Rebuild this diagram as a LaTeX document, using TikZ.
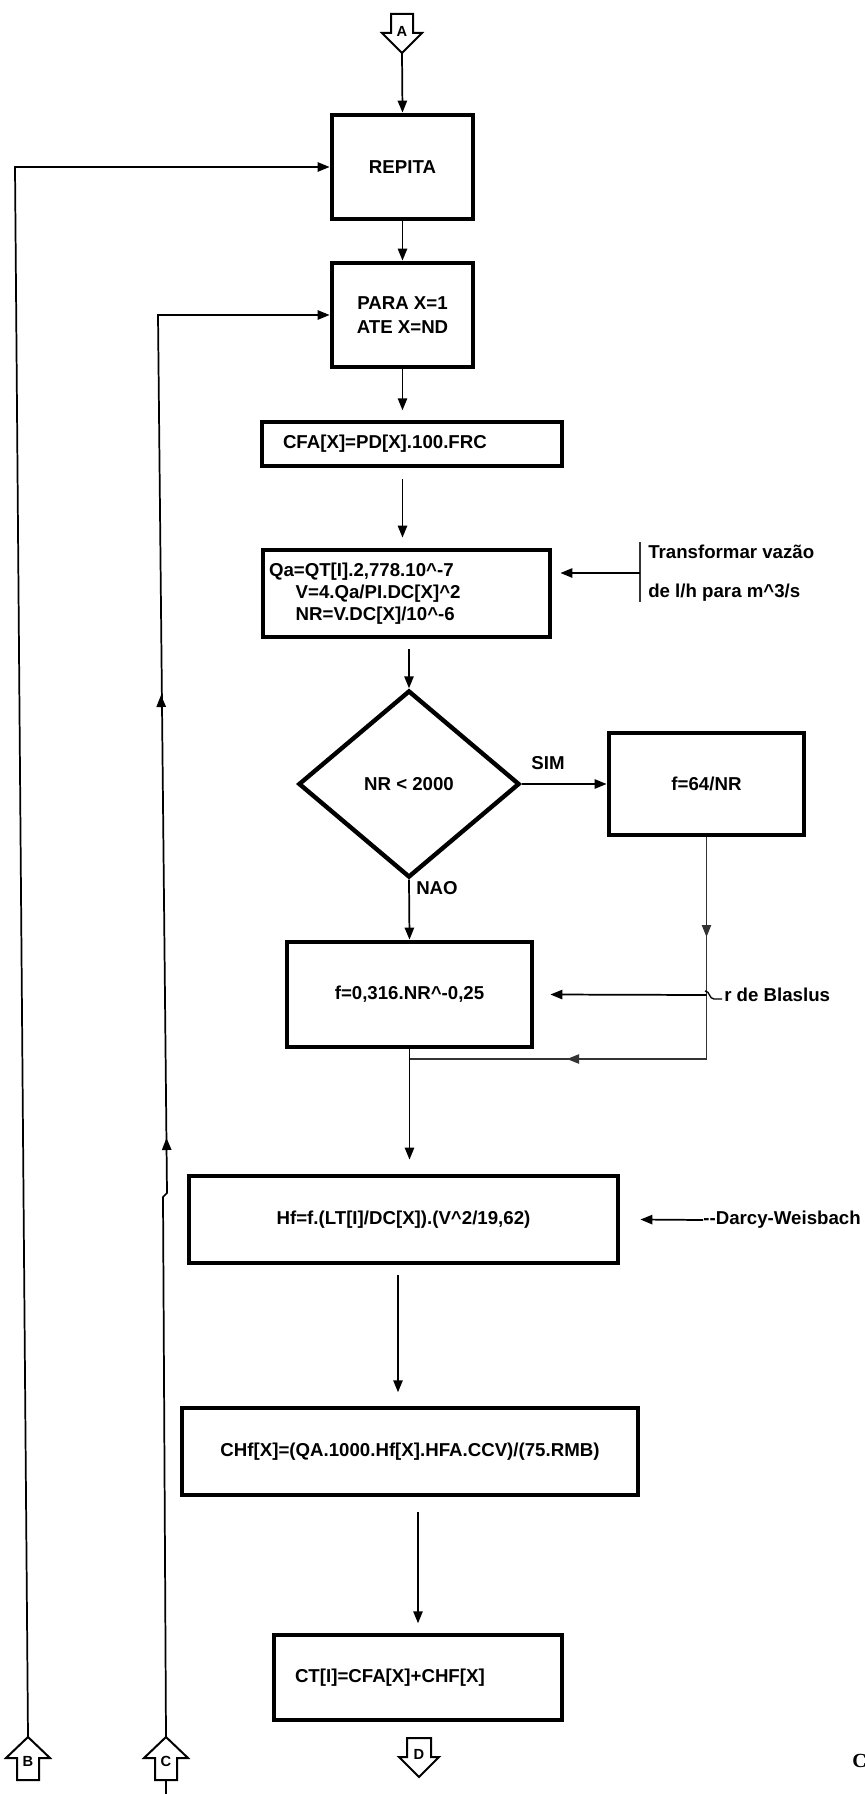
\documentclass[tikz,border=0pt]{standalone}
\usepackage{fontspec}
\setmainfont{Liberation Sans}
\newfontfamily\pageserif{Liberation Serif}
\usetikzlibrary{arrows.meta,shapes.geometric}
\begin{document}
\begin{tikzpicture}[x=0.75pt,y=-0.75pt,
  lbl/.style={font=\bfseries\fontsize{14}{16.5}\selectfont, inner sep=0pt},
  box/.style={draw, line width=3.6pt, inner sep=0pt, font=\bfseries\fontsize{14}{16.5}\selectfont},
  decision/.style={diamond, draw, line width=3.3pt, inner sep=0pt, font=\bfseries\fontsize{14}{16.5}\selectfont},
  tip/.style={-{Triangle[length=9pt,width=7pt]}},
  flow/.style={line width=1.3pt, tip},
  wire/.style={line width=1.3pt},
  thinwire/.style={line width=0.9pt, black!80},
  offpage/.style={draw, line width=1.5pt, fill=white, line join=miter},
  conn/.style={font=\bfseries\fontsize{11}{13}\selectfont, inner sep=0pt},
]
\useasboundingbox (0,0) rectangle (864,1794);
\fill[white] (0,0) rectangle (864,1794);

% ---- off-page connectors ----
\draw[offpage] (391,14) -- (413,14) -- (413,33) -- (422,33) -- (402,53) -- (382,33) -- (391,33) -- cycle;
\node[conn] (A) at (402,31) {A};
\coordinate (Atip) at (402,53);

\draw[offpage] (28,1737) -- (50,1758) -- (39,1758) -- (39,1780) -- (17,1780) -- (17,1758) -- (6,1758) -- cycle;
\node[conn] (B) at (28,1761) {B};
\coordinate (Btip) at (28,1737);

\draw[offpage] (166,1737) -- (188,1758) -- (177,1758) -- (177,1780) -- (155,1780) -- (155,1758) -- (144,1758) -- cycle;
\node[conn] (C) at (166,1761) {C};
\coordinate (Ctip) at (166,1737);
\coordinate (Cfoot) at (166,1780);

\draw[offpage] (407,1738) -- (431,1738) -- (431,1757) -- (439,1757) -- (419,1777) -- (399,1757) -- (407,1757) -- cycle;
\node[conn] (D) at (419,1754) {D};

% ---- process boxes ----
\node[box, minimum width=105.75pt, minimum height=78pt] (repita) at (402.5,167) {REPITA};
\node[box, minimum width=105.75pt, minimum height=78pt, align=center,
      font=\bfseries\fontsize{14}{18}\selectfont] (para) at (402.5,315) {PARA X=1\\ATE X=ND};
\node[box, minimum width=225pt, minimum height=33pt, inner xsep=15.75pt, text width=193.5pt,
      align=left] (cfa) at (412,444) {CFA[X]=PD[X].100.FRC};
\node[box, minimum width=215.25pt, minimum height=65.25pt, inner xsep=4.5pt, text width=206.25pt,
      align=left] (qa) at (406.5,593.5)
  {Qa=QT[I].2,778.10\textasciicircum-7\\\hspace*{20pt}V=4.Qa/PI.DC[X]\textasciicircum2\\\hspace*{20pt}NR=V.DC[X]/10\textasciicircum-6};
\node[decision, minimum width=165.75pt, minimum height=140.25pt] (nr) at (409,784) {NR < 2000};
\node[box, minimum width=146.25pt, minimum height=76.5pt] (f64) at (706.5,784) {f=64/NR};
\node[box, minimum width=183.75pt, minimum height=78.75pt] (f316) at (409.5,994.5) {f=0,316.NR\textasciicircum-0,25};
\node[box, minimum width=321.75pt, minimum height=65.25pt] (hf) at (403.5,1219.5) {Hf=f.(LT[I]/DC[X]).(V\textasciicircum2/19,62)};
\node[box, minimum width=342pt, minimum height=65.25pt] (chf) at (410,1451.5) {CHf[X]=(QA.1000.Hf[X].HFA.CCV)/(75.RMB)};
\node[box, minimum width=216pt, minimum height=63.75pt, inner xsep=15.75pt, text width=184.5pt,
      align=left] (ct) at (418,1677.5) {CT[I]=CFA[X]+CHF[X]};

% ---- labels and notes ----
\node[lbl] (sim) at (548,763) {SIM};
\node[lbl] (nao) at (437,888) {NAO};
\node[lbl, anchor=west] (tv1) at (648,552) {Transformar vazão};
\node[lbl, anchor=west] (tv2) at (648,593) {de l/h para m\textasciicircum3/s};
\node[lbl, anchor=west] (blas) at (724,995) {r de Blaslus};
\node[lbl, anchor=east] (darcy) at (861,1220) {-{}-Darcy-Weisbach};
\node[font=\pageserif\bfseries\fontsize{15}{18}\selectfont, anchor=west, inner sep=0pt] (pg) at (852,1761) {C};

% ---- main flow ----
\draw[flow] (Atip) -- (repita.north);
\draw[flow] (repita.south) -- (para.north);
\draw[flow] (para.south) -- ([yshift=7pt]para.south |- cfa.north);
\draw[flow] ([yshift=-8pt]para.south |- cfa.south) -- ([yshift=7.5pt]para.south |- qa.north);
\draw[flow] ([yshift=-7.5pt]nr.north |- qa.south) -- (nr.north);
\draw[flow] (nr.east) -- (nr.east -| f64.west);
\draw[flow] (nr.south) -- (f316.north);
\draw[flow] (f316.south) -- ([yshift=10.5pt]f316.south |- hf.north);
\coordinate (hfout) at (398,1275);
\draw[flow] (hfout) -- ([yshift=10pt]hfout |- chf.north);
\draw[flow] ([yshift=-11pt]ct.north |- chf.south) -- ([yshift=7pt]ct.north);

% ---- SIM branch back into the main line ----
\coordinate (rc) at (706.5,1059);
\coordinate (join) at (409.5,1059);
\draw[thinwire] (f64.south) -- (rc) -- (join);
\draw[thinwire, tip] (706.5,925) -- (706.5,937);
\draw[thinwire, tip] (580,1059) -- (567,1059);

% ---- notes pointing at boxes ----
\coordinate (brk) at (640,573);
\draw[thinwire] (640,542) -- (640,602);
\draw[flow] (brk) -- ([xshift=6pt]qa.east |- brk);
\draw[flow] (706.5,995) -- ([xshift=12pt]f316.east);
\draw[line width=1pt] (705,991) .. controls (710,991) and (709,999) .. (714,999) -- (722,999);
\draw[flow] (darcy.west) -- ([xshift=15pt]hf.east);

% ---- loop returns ----
\coordinate (bc) at (15,167);
\draw[flow] (Btip) -- (bc) -- (repita.west);
\coordinate (c1) at (163,1197);
\coordinate (c2) at (167,1193);
\coordinate (cc) at (158,315);
\draw[flow] (Ctip) -- (c1) -- (c2) -- (cc) -- (para.west);
\draw[wire, tip] (166.7,1150) -- (166.5,1138);
\draw[wire, tip] (161.2,707) -- (161,695);
\draw[wire] (Cfoot) -- (166,1794);
\end{tikzpicture}
\end{document}
